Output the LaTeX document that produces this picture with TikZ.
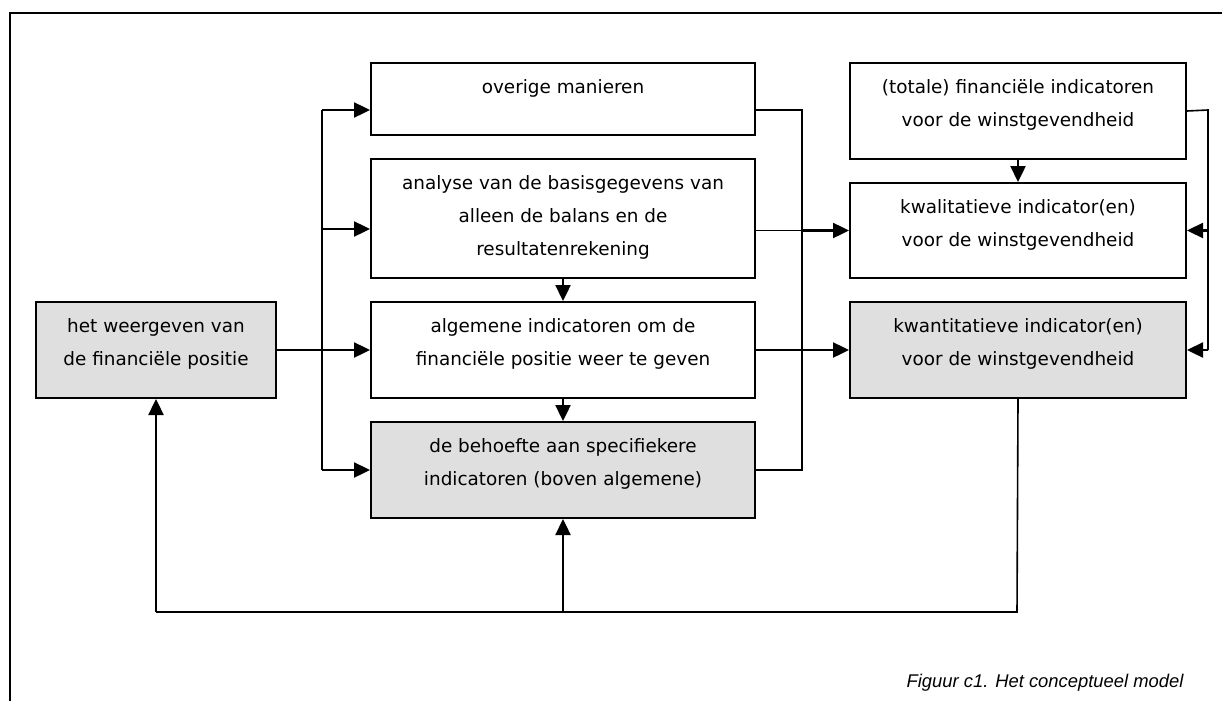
\documentclass[tikz,border=0pt]{standalone}
\usepackage{fontspec}
\setmainfont{DejaVu Sans}
\newfontfamily\capfont{Liberation Sans}
\usetikzlibrary{arrows.meta}

% box content: fixed width and height, lines centred, first line near the top
\newcommand{\cellbox}[3]{\vbox to #2{\hsize=#1\relax\parskip=0pt\centering
  \vskip 15pt\rule{0pt}{15pt}#3\par\vfil}}

\tikzset{
  box/.style={draw, line width=2pt, inner sep=0pt, anchor=north west,
    fill=white, font=\fontsize{18.4}{33}\selectfont},
  greybox/.style={box, fill=gray!25},
  wire/.style={line width=1.6pt},
  bus/.style={line width=2pt},
  arr/.style={line width=2.4pt, -{Triangle[length=16pt,width=15pt]}},
}

\begin{document}
\begin{tikzpicture}[x=1pt, y=1pt]
\useasboundingbox (0,0) rectangle (1222,-701);

% outer frame (top and left edges)
\draw[line width=2.2pt] (10,-701) -- (10,-13) -- (1222,-13);

% boxes
\node[greybox] (LB) at (35,-301) {\cellbox{240pt}{96pt}{het weergeven van\\de financiële positie}};
\node[box] (OV) at (370,-62) {\cellbox{384pt}{72pt}{overige manieren}};
\node[box] (AN) at (370,-158) {\cellbox{384pt}{119pt}{analyse van de basisgegevens van\\alleen de balans en de\\resultatenrekening}};
\node[box] (AL) at (370,-301) {\cellbox{384pt}{96pt}{algemene indicatoren om de\\financiële positie weer te geven}};
\node[greybox] (BE) at (370,-421) {\cellbox{384pt}{96pt}{de behoefte aan specifiekere\\indicatoren (boven algemene)}};
\node[box] (TO) at (849,-62) {\cellbox{336pt}{96pt}{(totale) financiële indicatoren\\voor de winstgevendheid}};
\node[box] (KL) at (849,-182) {\cellbox{336pt}{95pt}{kwalitatieve indicator(en)\\voor de winstgevendheid}};
\node[greybox] (KN) at (849,-301) {\cellbox{336pt}{96pt}{kwantitatieve indicator(en)\\voor de winstgevendheid}};

% junction points of the buses
\coordinate (lbusT) at (322,-110);
\coordinate (lbus2) at (322,-229);
\coordinate (lbus3) at (LB.east -| lbusT);
\coordinate (lbusB) at (BE.west -| lbusT);
\coordinate (mbusT) at (802,-110);
\coordinate (mbus2) at (KL.west -| mbusT);
\coordinate (mbus3) at (KN.west -| mbusT);
\coordinate (mbusB) at (BE.east -| mbusT);
\coordinate (rbusT) at (1208,-110);
\coordinate (rbus2) at (KL.east -| rbusT);
\coordinate (rbus3) at (KN.east -| rbusT);
\coordinate (fbR) at (1017,-612);
\coordinate (fbM) at (BE.south |- fbR);
\coordinate (fbL) at (LB.south |- fbR);

% left bus
\draw[bus] (lbusT) -- (lbusB);
\draw[wire] (LB.east) -- (lbus3);
\draw[arr] (lbusT) -- (OV.west |- lbusT);
\draw[arr] (lbus2) -- (AN.west |- lbus2);
\draw[arr] (lbus3) -- (AL.west);
\draw[arr] (lbusB) -- (BE.west);

% middle column
\draw[arr] (AN.south) -- (AL.north);
\draw[arr] (AL.south) -- (BE.north);

% middle bus
\draw[wire] (OV.east |- mbusT) -- (mbusT) -- (mbusB) -- (BE.east);
\draw[wire] (AN.east |- mbus2) -- (mbus2);
\draw[arr] (mbus2) -- (KL.west);
\draw[wire] (AL.east) -- (mbus3);
\draw[arr] (mbus3) -- (KN.west);

% right column
\draw[arr] (TO.south) -- (KL.north);
\draw[wire] (TO.east) -- (rbusT) -- (rbus3);
\draw[arr] (rbus2) -- (KL.east);
\draw[arr] (rbus3) -- (KN.east);

% feedback loop
\draw[wire] (KN.south) -- (fbR) -- (fbL);
\draw[arr] (fbL) -- (LB.south);
\draw[arr] (fbM) -- (BE.south);

% caption
\node[anchor=base east, font=\capfont\itshape\fontsize{18.4}{22}\selectfont] (cap) at (1187,-687) {Figuur c1. Het conceptueel model};
\end{tikzpicture}
\end{document}
